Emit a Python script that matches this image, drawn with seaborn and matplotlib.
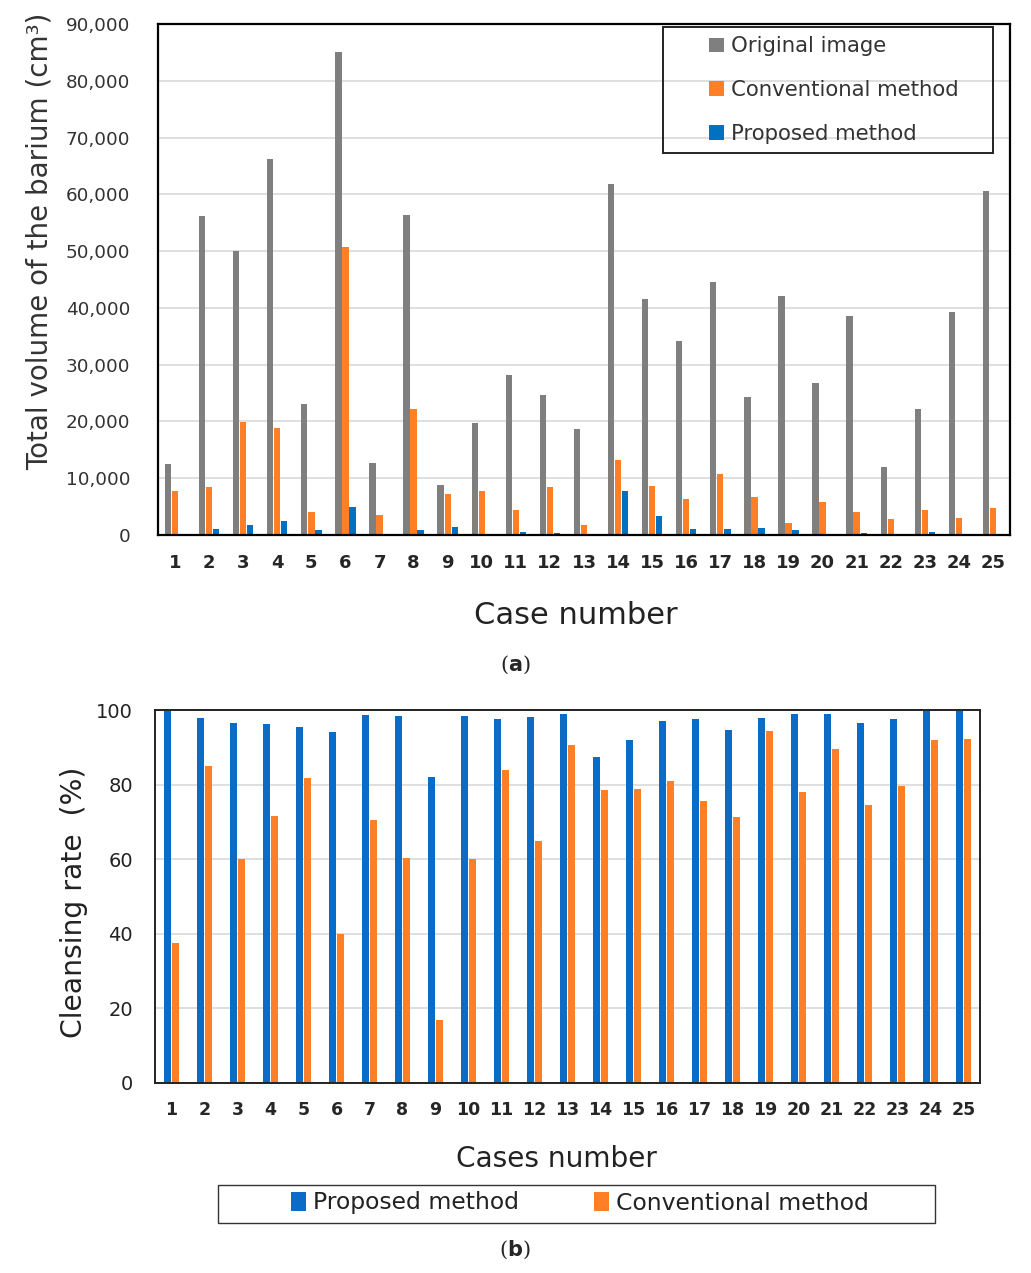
import matplotlib
matplotlib.use("Agg")
import matplotlib.pyplot as plt
import seaborn as sns
import pandas as pd
from matplotlib.ticker import FuncFormatter
from matplotlib.patches import Rectangle

cases = [str(i) for i in range(1, 26)]

# (a) total volume of barium (cm3)
original = [12500, 56100, 50100, 66200, 23000, 85000, 12600, 56400, 8800, 19700,
            28100, 24700, 18700, 61800, 41600, 34200, 44600, 24300, 42100, 26800,
            38500, 12000, 22200, 39200, 60500]
conventional_vol = [7700, 8400, 19900, 18800, 4100, 50800, 3600, 22200, 7250, 7700,
                    4400, 8500, 1700, 13200, 8700, 6400, 10800, 6750, 2200, 5800,
                    4000, 2900, 4400, 3000, 4700]
proposed_vol = [100, 1100, 1750, 2500, 950, 4900, 100, 800, 1450, 250,
                500, 400, 100, 7750, 3350, 1000, 1000, 1200, 900, 250,
                400, 250, 550, 100, 100]

# (b) cleansing rate (%)
proposed_rate = [99.6, 97.8, 96.4, 96.2, 95.4, 94.1, 98.7, 98.5, 82.1, 98.5,
                 97.7, 98.2, 98.9, 87.4, 92.0, 97.0, 97.7, 94.6, 97.9, 98.9,
                 98.9, 96.6, 97.5, 99.6, 99.6]
conventional_rate = [37.6, 84.9, 60.0, 71.5, 81.9, 40.0, 70.4, 60.3, 17.0, 60.0,
                     84.0, 65.0, 90.5, 78.5, 78.8, 81.0, 75.6, 71.4, 94.5, 78.1,
                     89.5, 74.6, 79.6, 92.0, 92.3]

series_a = ["Original image", "Conventional method", "Proposed method"]
series_b = ["Proposed method", "Conventional method"]

GRAY = "#7f7f7f"
ORANGE = "#ff7f27"
BLUE_A = "#0070c0"
BLUE_B = "#0b6cc8"

df_a = pd.DataFrame({
    "case": cases * 3,
    "value": original + conventional_vol + proposed_vol,
    "series": [series_a[0]] * 25 + [series_a[1]] * 25 + [series_a[2]] * 25,
})
df_b = pd.DataFrame({
    "case": cases * 2,
    "value": proposed_rate + conventional_rate,
    "series": [series_b[0]] * 25 + [series_b[1]] * 25,
})

sns.set_style("white")
plt.rcParams["font.family"] = ["DejaVu Sans"]

fig = plt.figure(figsize=(10.31, 12.73), dpi=100)
W, H = 1031, 1273

def axrect(l, t, r, b):
    return [l / W, 1 - b / H, (r - l) / W, (b - t) / H]

ax1 = fig.add_axes(axrect(158, 24, 1010, 535))
ax2 = fig.add_axes(axrect(155, 710, 980, 1083))

# ---------- (a) ----------
sns.barplot(data=df_a, x="case", y="value", hue="series", order=cases,
            hue_order=series_a, palette=[GRAY, ORANGE, BLUE_A],
            width=0.62, gap=0.1, saturation=1, linewidth=0, ax=ax1)
ax1.set_xlim(-0.5, 24.5)
ax1.set_ylim(0, 90000)
ax1.set_yticks(range(0, 90001, 10000))
ax1.yaxis.set_major_formatter(FuncFormatter(lambda v, p: f"{int(v):,}"))
ax1.set_axisbelow(True)
ax1.yaxis.grid(True, color="#d9d9d9", linewidth=1.2)
for s in ax1.spines.values():
    s.set_color("black")
    s.set_linewidth(1.6)
ax1.tick_params(axis="y", length=0, pad=20, labelsize=13.2, labelcolor="#333333")
ax1.tick_params(axis="x", length=0, pad=14, labelsize=13)
for lab in ax1.get_xticklabels():
    lab.set_fontweight("bold")
ax1.set_ylabel("Total volume of the barium (cm³)", fontsize=20, color="#333333")
ax1.yaxis.set_label_coords(-0.122, 0.575)
ax1.set_xlabel("Case number", fontsize=22, color="#222222")
ax1.xaxis.set_label_coords(0.49, -0.13)
h, l = ax1.get_legend_handles_labels()
ax1.legend(h, l, loc="upper left", bbox_to_anchor=(703 / W, 1 - 30 / H),
           bbox_transform=fig.transFigure, frameon=False, fontsize=15.3,
           handlelength=0.7, handleheight=0.7, handletextpad=0.3,
           labelspacing=1.12, borderpad=0.3, borderaxespad=0.0,
           labelcolor="#333333")
fig.add_artist(Rectangle((663 / W, 1 - 153 / H), (993 - 663) / W, 126 / H,
                         transform=fig.transFigure, fill=False,
                         edgecolor="#222222", linewidth=1.4, zorder=10))

# ---------- (b) ----------
sns.barplot(data=df_b, x="case", y="value", hue="series", order=cases,
            hue_order=series_b, palette=[BLUE_B, ORANGE],
            width=0.5, gap=0.15, saturation=1, linewidth=0, ax=ax2, legend=True)
ax2.set_xlim(-0.5, 24.5)
ax2.set_ylim(0, 100)
ax2.set_yticks(range(0, 101, 20))
ax2.set_axisbelow(True)
ax2.yaxis.grid(True, color="#d9d9d9", linewidth=1.2)
for s in ax2.spines.values():
    s.set_color("#222222")
    s.set_linewidth(1.4)
ax2.tick_params(axis="y", length=0, pad=16, labelsize=14, labelcolor="#222222")
ax2.tick_params(axis="x", length=0, pad=13, labelsize=12.5)
for lab in ax2.get_xticklabels():
    lab.set_fontweight("bold")
ax2.set_ylabel("Cleansing rate  (%)", fontsize=20.3, color="#222222")
ax2.yaxis.set_label_coords(-0.081, 0.485)
ax2.set_xlabel("Cases number", fontsize=20.2, color="#222222")
ax2.xaxis.set_label_coords(0.487, -0.165)
h2, l2 = ax2.get_legend_handles_labels()
ax2.legend_.remove()
fig.legend(h2, l2, loc="center", bbox_to_anchor=(580 / W, 1 - 1203 / H),
           ncol=2, frameon=False, fontsize=16.9, handlelength=0.65,
           handleheight=0.9, handletextpad=0.3, columnspacing=3.2,
           labelcolor="#222222")
fig.add_artist(Rectangle((218 / W, 1 - 1223 / H), (935 - 218) / W, 38 / H,
                         transform=fig.transFigure, fill=False,
                         edgecolor="#333333", linewidth=1.0))

# captions
fig.text(515 / W, 1 - 665 / H, r"($\mathbf{a}$)", ha="center", va="center",
         fontsize=15, family="DejaVu Serif")
fig.text(515 / W, 1 - 1250 / H, r"($\mathbf{b}$)", ha="center", va="center",
         fontsize=15, family="DejaVu Serif")

fig.savefig("out.png", dpi=100)
